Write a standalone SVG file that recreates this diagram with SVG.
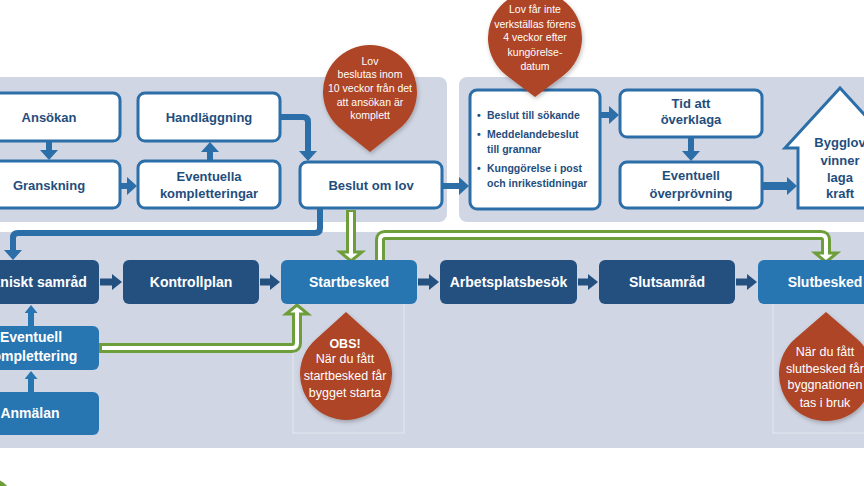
<svg xmlns="http://www.w3.org/2000/svg" width="864" height="486" viewBox="0 0 864 486">
<style>
.panel{fill:#d1d6e4}
.wbox{fill:#fff;stroke:#2c6ea7;stroke-width:3}
.dark{fill:#24507f}
.med{fill:#2776b2}
.t{font-family:"Liberation Sans",Arial,sans-serif;font-weight:bold;font-size:13px;fill:#1f4e7d;text-anchor:middle}
.tl{font-family:"Liberation Sans",Arial,sans-serif;font-weight:bold;font-size:10.5px;fill:#1f4e7d}
.tw{font-family:"Liberation Sans",Arial,sans-serif;font-weight:bold;font-size:14px;fill:#fff;text-anchor:middle}
.dt{font-family:"Liberation Sans",Arial,sans-serif;font-size:10.5px;fill:#fff;text-anchor:middle}
.dt2{font-family:"Liberation Sans",Arial,sans-serif;font-size:12.5px;fill:#fff;text-anchor:middle}
.drop{fill:#ad4526;filter:url(#sh)}
.bl{fill:none;stroke:#2c6ea7;stroke-width:6;marker-end:url(#ab)}
.nv{fill:none;stroke:#24507f;stroke-width:7;marker-end:url(#an)}
.mb{fill:none;stroke:#2776b2;stroke-width:6;marker-end:url(#am)}
.gO{fill:none;stroke:#6e9e3a;stroke-width:10}
.gI{fill:none;stroke:#fff;stroke-width:4}
.gH{fill:#fff;stroke:#6e9e3a;stroke-width:3;stroke-linejoin:miter}
.faint{fill:none;stroke:#e3e7f0;stroke-width:1}
</style>
<defs>
<marker id="ab" markerUnits="userSpaceOnUse" markerWidth="10" markerHeight="18" refX="0" refY="9" orient="auto"><path d="M0,0 L10,9 L0,18 Z" fill="#2c6ea7"/></marker>
<marker id="an" markerUnits="userSpaceOnUse" markerWidth="10" markerHeight="16" refX="0" refY="8" orient="auto"><path d="M0,0 L10,8 L0,16 Z" fill="#24507f"/></marker>
<marker id="am" markerUnits="userSpaceOnUse" markerWidth="8" markerHeight="13" refX="0" refY="6.5" orient="auto"><path d="M0,0 L8,6.5 L0,13 Z" fill="#2776b2"/></marker>
<filter id="sh" x="-20%" y="-20%" width="140%" height="140%"><feDropShadow dx="1" dy="2" stdDeviation="2" flood-color="#000" flood-opacity="0.25"/></filter>
</defs>
<rect width="864" height="486" fill="#fff"/>
<g id="panels">
<rect class="panel" x="-10" y="77" width="457" height="145" rx="8"/>
<rect class="panel" x="459" y="77" width="415" height="145" rx="8"/>
<rect class="panel" x="-10" y="232" width="884" height="216" rx="4"/>
<rect class="faint" x="293" y="300" width="111" height="133"/>
<rect class="faint" x="773" y="300" width="111" height="133"/>
</g>
<circle cx="-10" cy="500" r="22" fill="#6e9e3a"/>
<g id="connectors">
<path class="bl" d="M49,142 V150"/>
<path class="bl" d="M121,186 H127"/>
<path class="bl" d="M210,160 V152"/>
<path class="bl" d="M281,117 H303 Q308,117 308,122 V151"/>
<path class="bl" d="M443,186 H459"/>
<path class="bl" d="M601,115 H609"/>
<path class="bl" d="M691,138 V151"/>
<path class="bl" style="stroke-width:8" d="M763,186 H787"/>
<path class="bl" d="M320,209 V228 Q320,233 315,233 H18 Q13,233 13,238 V250"/>
<path class="nv" d="M100,282 H112"/>
<path class="nv" d="M260,282 H270"/>
<path class="nv" d="M418,282 H429"/>
<path class="nv" d="M578,282 H588"/>
<path class="nv" d="M736,282 H747"/>
<path class="mb" d="M31,326 V313"/>
<path class="mb" d="M31,392 V379"/>
<path class="gO" d="M351,210 V252"/>
<polygon class="gH" points="340,252 362,252 351,261"/>
<path class="gI" d="M351,212 V256"/>
<path class="gO" d="M380,260 V240 Q380,235 385,235 H821 Q826,235 826,240 V253"/>
<polygon class="gH" points="815,253 837,253 826,262"/>
<path class="gI" d="M380,260 V240 Q380,235 385,235 H821 Q826,235 826,240 V257"/>
<path class="gO" d="M99,348 H292 Q297,348 297,343 V314"/>
<polygon class="gH" points="286,314 308,314 297,305"/>
<path class="gI" d="M102,348 H292 Q297,348 297,343 V310"/>
</g>
<g id="ansokan"><rect class="wbox" x="-22" y="93" width="142" height="48" rx="7"/><text class="t" x="49" y="121.5">Ansökan</text></g>
<g id="granskning"><rect class="wbox" x="-22" y="161" width="142" height="47" rx="7"/><text class="t" x="49" y="189.5">Granskning</text></g>
<g id="handlaggning"><rect class="wbox" x="138" y="93" width="142" height="48" rx="7"/><text class="t" x="209" y="121.5">Handläggning</text></g>
<g id="kompletteringar"><rect class="wbox" x="138" y="161" width="142" height="47" rx="7"/><text class="t" x="209" y="181">Eventuella</text><text class="t" x="209" y="198">kompletteringar</text></g>
<g id="beslut"><rect class="wbox" x="300" y="162" width="142" height="46" rx="7"/><text class="t" x="371" y="189.5">Beslut om lov</text></g>
<g id="drop1"><path class="drop" d="M370,152 L340.8,128.8 A47,47 0 1,1 399.2,128.8 Z"/>
<text class="dt" x="370" y="65">Lov</text><text class="dt" x="370" y="78">beslutas inom</text><text class="dt" x="370" y="92">10 veckor från det</text><text class="dt" x="370" y="105.5">att ansökan är</text><text class="dt" x="370" y="119">komplett</text></g>
<g id="bullets"><rect class="wbox" x="470" y="90" width="130" height="119" rx="7"/>
<text class="tl" x="477" y="118.5">•</text><text class="tl" x="487" y="118.5">Beslut till sökande</text>
<text class="tl" x="477" y="137.5">•</text><text class="tl" x="487" y="137.5">Meddelandebeslut</text>
<text class="tl" x="487" y="152.5">till grannar</text>
<text class="tl" x="477" y="171.5">•</text><text class="tl" x="487" y="171.5">Kunggörelse i post</text>
<text class="tl" x="487" y="186.5">och inrikestidningar</text></g>
<g id="drop2"><path class="drop" d="M535,97 L506.6,75.4 A47,47 0 1,1 563.4,75.4 Z"/>
<text class="dt" x="535" y="13">Lov får inte</text><text class="dt" x="535" y="27.5">verkställas förens</text><text class="dt" x="535" y="41">4 veckor efter</text><text class="dt" x="535" y="55.5">kungörelse-</text><text class="dt" x="535" y="69.5">datum</text></g>
<g id="tid"><rect class="wbox" x="620" y="90" width="142" height="47" rx="7"/><text class="t" x="691" y="107.5">Tid att</text><text class="t" x="691" y="124">överklaga</text></g>
<g id="overprovning"><rect class="wbox" x="620" y="162" width="142" height="46" rx="7"/><text class="t" x="691" y="180">Eventuell</text><text class="t" x="691" y="197.5">överprövning</text></g>
<g id="laga-kraft"><polygon class="wbox" points="798,208 798,148 785,148 840,88 895,148 882,148 882,208" stroke-linejoin="miter"/>
<text class="t" x="840" y="146.5">Bygglov</text><text class="t" x="840" y="164.5">vinner</text><text class="t" x="840" y="181.5">laga</text><text class="t" x="840" y="198">kraft</text></g>
<g id="tekniskt"><rect class="dark" x="-37" y="260" width="136" height="44" rx="6"/><text class="tw" x="32" y="287">Tekniskt samråd</text></g>
<g id="kontrollplan"><rect class="dark" x="123" y="260" width="136" height="44" rx="6"/><text class="tw" x="191" y="287">Kontrollplan</text></g>
<g id="startbesked"><rect class="med" x="281" y="260" width="136" height="44" rx="6"/><text class="tw" x="349" y="287">Startbesked</text></g>
<g id="arbetsplatsbesok"><rect class="dark" x="440" y="260" width="137" height="44" rx="6"/><text class="tw" x="508.5" y="287">Arbetsplatsbesök</text></g>
<g id="slutsamrad"><rect class="dark" x="599" y="260" width="136" height="44" rx="6"/><text class="tw" x="667" y="287">Slutsamråd</text></g>
<g id="slutbesked"><rect class="med" x="758" y="260" width="136" height="44" rx="6"/><text class="tw" x="825" y="287">Slutbesked</text></g>
<g id="komplettering"><rect class="med" x="-37" y="326" width="136" height="44" rx="6"/><text class="tw" x="31" y="342">Eventuell</text><text class="tw" x="31" y="361">komplettering</text></g>
<g id="anmalan"><rect class="med" x="-37" y="392" width="136" height="43" rx="6"/><text class="tw" x="30" y="418">Anmälan</text></g>
<g id="drop-obs"><path class="drop" d="M346,312 L315.1,339.9 A46,46 0 1,0 376.9,339.9 Z"/>
<text class="dt2" x="345" y="347.5" font-weight="bold">OBS!</text><text class="dt2" x="345" y="363">När du fått</text><text class="dt2" x="345" y="380">startbesked får</text><text class="dt2" x="345" y="396.5">bygget starta</text></g>
<g id="drop-slut"><path class="drop" d="M826,312 L795.4,338.4 A47,47 0 1,0 856.6,338.4 Z"/>
<text class="dt2" x="825" y="355.5">När du fått</text><text class="dt2" x="825" y="372.5">slutbesked får</text><text class="dt2" x="825" y="388.5">byggnationen</text><text class="dt2" x="825" y="406.5">tas i bruk</text></g>
</svg>
